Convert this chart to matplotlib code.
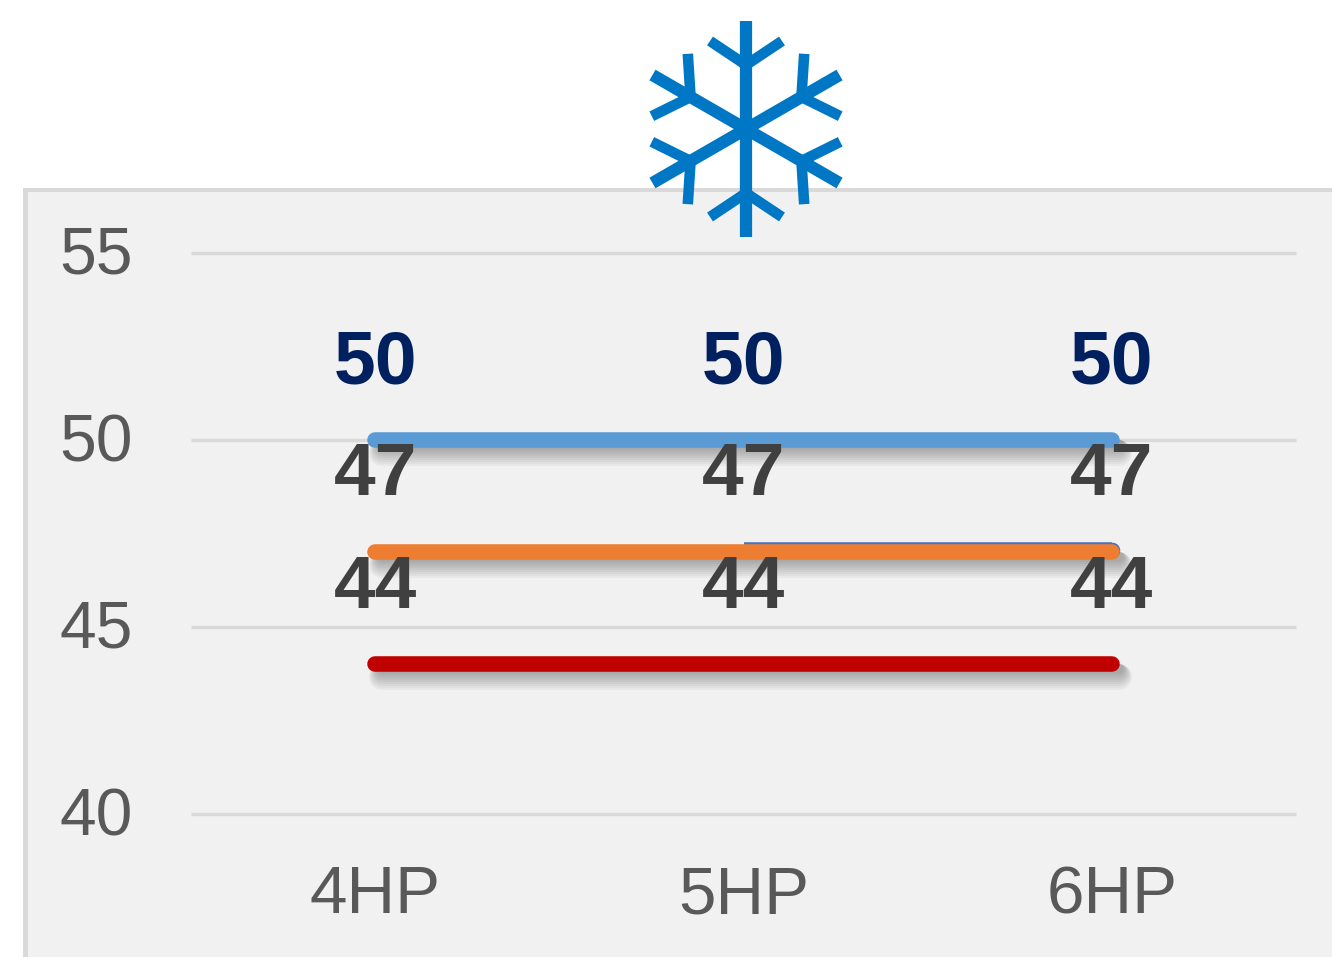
import numpy as np
import matplotlib
matplotlib.use("Agg")
import matplotlib.pyplot as plt
import matplotlib.patheffects as pe
from matplotlib.patches import Rectangle
from matplotlib.transforms import offset_copy

categories = ["4HP", "5HP", "6HP"]
y_ticks = [40, 45, 50, 55]
series_blue = [50, 50, 50]
series_dark = [np.nan, 47, 47]   # only shows as a sliver above the orange one
series_orange = [47, 47, 47]
series_red = [44, 44, 44]

W, H = 1332, 957
plt.rcParams['font.family'] = ['Liberation Sans', 'DejaVu Sans']

fig = plt.figure(figsize=(W/100, H/100), dpi=100)
fig.patch.set_facecolor('white')

# grey panel behind the chart, runs off the right and bottom edge
fig.add_artist(Rectangle((23/W, 0), 1 - 23/W, 1 - 188/H, transform=fig.transFigure,
                         facecolor='#F1F1F1', edgecolor='none', zorder=-3))
fig.add_artist(Rectangle((23/W, 1 - 192/H), 1 - 23/W, 4/H, transform=fig.transFigure,
                         facecolor='#D9D9D9', edgecolor='none', zorder=-2))
fig.add_artist(Rectangle((23/W, 0), 5/W, 1 - 188/H, transform=fig.transFigure,
                         facecolor='#D9D9D9', edgecolor='none', zorder=-2))

ax = fig.add_axes([191/W, 1 - 814/H, (1296 - 191)/W, (814 - 253)/H], zorder=2)
ax.patch.set_visible(False)
ax.set_xlim(-0.5, 2.5)
ax.set_ylim(40, 55)
ax.set_xticks(range(3))
ax.set_xticklabels(categories)
ax.set_yticks(y_ticks)
ax.tick_params(axis='both', length=0, labelcolor='#595959')
ax.tick_params(axis='x', pad=37, labelsize=48.5)
ax.tick_params(axis='y', pad=42, labelsize=47.5)
for lab in ax.get_yticklabels():
    lab.set_transform(offset_copy(lab.get_transform(), fig=fig, x=0, y=3, units='dots'))
for s in ax.spines.values():
    s.set_visible(False)
ax.grid(axis='y', color='#D9D9D9', linewidth=2.4, clip_on=False, solid_capstyle='butt')
ax.set_axisbelow(True)

# soft shadow: translucent strokes whose top stays behind the line, lower edge fades out
shadow = []
for hw in [5, 6, 7, 8, 9, 10, 11, 12, 13]:
    shadow.append(pe.SimpleLineShadow(offset=(5, -hw*0.72), shadow_color='black', alpha=0.036,
                                      linewidth=2*hw*0.72))
shadow.append(pe.Normal())

x = np.arange(3)
lw = 11.2
ax.plot(x, series_blue, color='#5B9BD5', lw=lw, solid_capstyle='round', path_effects=shadow, zorder=3)
dark_tr = offset_copy(ax.transData, fig=fig, x=0, y=2, units='dots')
ax.plot(x, series_dark, color='#4472C4', lw=lw, solid_capstyle='butt', transform=dark_tr, zorder=3,
        marker='o', ms=lw, mew=0, markevery=[2])
ax.plot(x, series_orange, color='#ED7D31', lw=lw, solid_capstyle='round', path_effects=shadow, zorder=3.1)
ax.plot(x, series_red, color='#C00000', lw=lw, solid_capstyle='round', path_effects=shadow, zorder=3)

for vals, col in [(series_blue, '#002060'), (series_orange, '#404040'), (series_red, '#404040')]:
    for i, v in enumerate(vals):
        ax.annotate(str(v), (i, v), xytext=(0, 55), textcoords='offset points', ha='center',
                    va='center', fontsize=54, fontweight='bold', color=col, zorder=6,
                    annotation_clip=False)

# snowflake in pixel coordinates, built from one arm rotated six times
over = fig.add_axes([0, 0, 1, 1], zorder=5)
over.set_xlim(0, W)
over.set_ylim(H, 0)
over.axis('off')
cx, cy = 746, 129
snow = '#0077C4'
for k in range(6):
    t = np.radians(60*k)
    def rot(u, v):
        return cx + u*np.cos(t) - v*np.sin(t), cy + u*np.sin(t) + v*np.cos(t)
    for p0, p1, w in [((0, 0), (0, -108), 8.8), ((0, -64), (-36, -88), 7.6), ((0, -64), (36, -88), 7.6)]:
        a, b = rot(*p0), rot(*p1)
        over.plot([a[0], b[0]], [a[1], b[1]], color=snow, lw=w, solid_capstyle='butt')

fig.savefig('out.png', dpi=100)
